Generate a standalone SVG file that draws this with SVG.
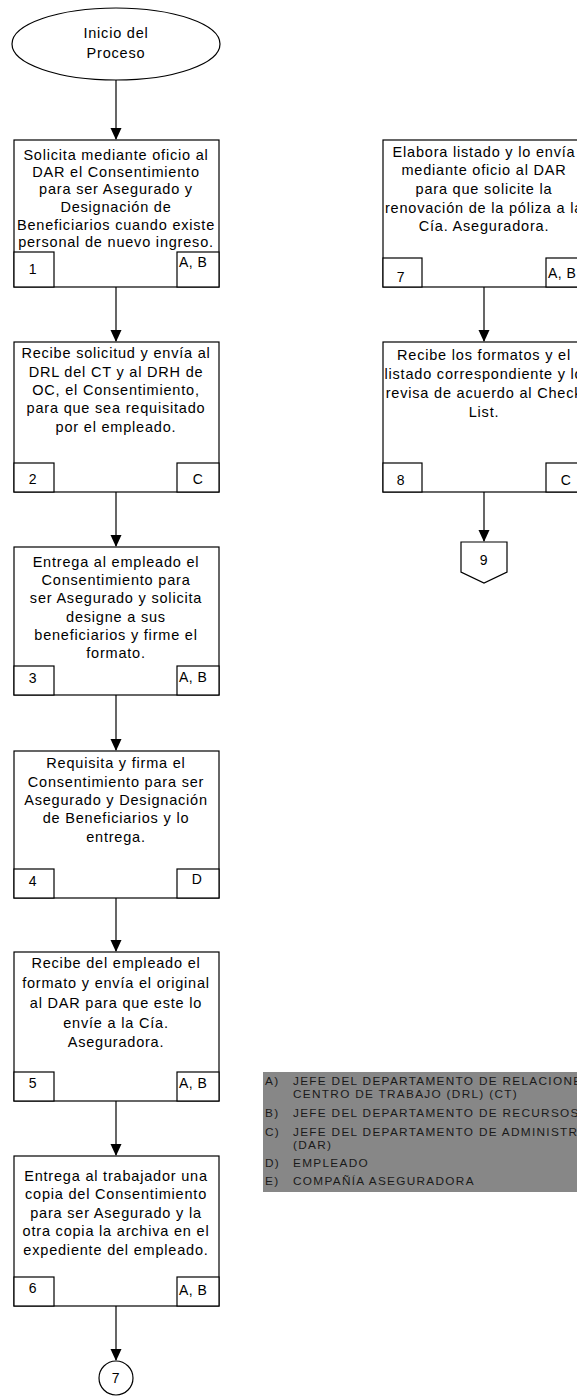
<svg xmlns="http://www.w3.org/2000/svg" width="577" height="1398" viewBox="0 0 577 1398">
<style>
.b{fill:#fff;stroke:#000;stroke-width:1.2}
.t{font-family:"Liberation Sans",Arial,sans-serif;font-size:14.5px;letter-spacing:0.8px;fill:#000;text-anchor:middle}
.s{font-family:"Liberation Sans",Arial,sans-serif;font-size:14px;letter-spacing:0.5px;fill:#000}
.c{text-anchor:middle}
.l{fill:none;stroke:#000;stroke-width:1.2}
.g{font-family:"Liberation Sans",Arial,sans-serif;font-size:11.8px;letter-spacing:1.3px;fill:#1a1a1a}
</style>
<defs>
<marker id="ah" markerWidth="12" markerHeight="12" refX="11" refY="6" orient="auto" markerUnits="userSpaceOnUse">
<path d="M0,0.5 L12,6 L0,11.5 Z" fill="#000"/>
</marker>
</defs>
<g id="connectors">
<line class="l" x1="116" y1="80" x2="116" y2="139" marker-end="url(#ah)"/>
<line class="l" x1="116" y1="287" x2="116" y2="341" marker-end="url(#ah)"/>
<line class="l" x1="116" y1="492" x2="116" y2="546" marker-end="url(#ah)"/>
<line class="l" x1="116" y1="695" x2="116" y2="750" marker-end="url(#ah)"/>
<line class="l" x1="116" y1="898" x2="116" y2="951" marker-end="url(#ah)"/>
<line class="l" x1="116" y1="1101" x2="116" y2="1155" marker-end="url(#ah)"/>
<line class="l" x1="116" y1="1306" x2="116" y2="1360" marker-end="url(#ah)"/>
<line class="l" x1="484" y1="287" x2="484" y2="341" marker-end="url(#ah)"/>
<line class="l" x1="484" y1="492" x2="484" y2="541" marker-end="url(#ah)"/>
</g>
<g id="start">
<ellipse class="b" cx="116" cy="44" rx="104" ry="36"/>
<text class="t" x="116" y="38">Inicio del</text>
<text class="t" x="116" y="58">Proceso</text>
</g>
<g id="n1">
<rect class="b" x="14" y="140" width="205" height="147"/>
<rect class="b" x="14" y="252" width="40" height="35"/>
<rect class="b" x="177" y="252" width="42" height="35"/>
<text class="t" x="116" y="160">Solicita mediante oficio al</text>
<text class="t" x="116" y="177">DAR el Consentimiento</text>
<text class="t" x="116" y="194">para ser Asegurado y</text>
<text class="t" x="116" y="212">Designación de</text>
<text class="t" x="116" y="230">Beneficiarios cuando existe</text>
<text class="t" x="116" y="247">personal de nuevo ingreso.</text>
<text class="s c" x="33" y="274">1</text>
<text class="s" x="179" y="267">A, B</text>
</g>
<g id="n2">
<rect class="b" x="14" y="342" width="205" height="150"/>
<rect class="b" x="14" y="463" width="40" height="29"/>
<rect class="b" x="177" y="463" width="42" height="29"/>
<text class="t" x="116" y="358">Recibe solicitud y envía al</text>
<text class="t" x="116" y="377">DRL del CT y al DRH de</text>
<text class="t" x="116" y="395">OC, el Consentimiento,</text>
<text class="t" x="116" y="413">para que sea requisitado</text>
<text class="t" x="116" y="432">por el empleado.</text>
<text class="s c" x="33" y="484">2</text>
<text class="s c" x="198" y="484">C</text>
</g>
<g id="n3">
<rect class="b" x="14" y="547" width="205" height="148"/>
<rect class="b" x="14" y="666" width="40" height="29"/>
<rect class="b" x="177" y="666" width="42" height="29"/>
<text class="t" x="116" y="567">Entrega al empleado el</text>
<text class="t" x="116" y="585">Consentimiento para</text>
<text class="t" x="116" y="603">ser Asegurado y solicita</text>
<text class="t" x="116" y="622">designe a sus</text>
<text class="t" x="116" y="640">beneficiarios y firme el</text>
<text class="t" x="116" y="658">formato.</text>
<text class="s c" x="33" y="683">3</text>
<text class="s" x="179" y="682">A, B</text>
</g>
<g id="n4">
<rect class="b" x="14" y="751" width="205" height="147"/>
<rect class="b" x="14" y="869" width="40" height="29"/>
<rect class="b" x="177" y="869" width="42" height="29"/>
<text class="t" x="116" y="768">Requisita y firma el</text>
<text class="t" x="116" y="787">Consentimiento para ser</text>
<text class="t" x="116" y="805">Asegurado y Designación</text>
<text class="t" x="116" y="823">de Beneficiarios y lo</text>
<text class="t" x="116" y="842">entrega.</text>
<text class="s c" x="33" y="886">4</text>
<text class="s c" x="197" y="884">D</text>
</g>
<g id="n5">
<rect class="b" x="14" y="952" width="205" height="149"/>
<rect class="b" x="14" y="1072" width="40" height="29"/>
<rect class="b" x="177" y="1072" width="42" height="29"/>
<text class="t" x="116" y="968">Recibe del empleado el</text>
<text class="t" x="116" y="988">formato y envía el original</text>
<text class="t" x="116" y="1008">al DAR para que este lo</text>
<text class="t" x="116" y="1028">envíe a la Cía.</text>
<text class="t" x="116" y="1047">Aseguradora.</text>
<text class="s c" x="33" y="1088">5</text>
<text class="s" x="179" y="1088">A, B</text>
</g>
<g id="n6">
<rect class="b" x="14" y="1156" width="205" height="150"/>
<rect class="b" x="14" y="1277" width="40" height="29"/>
<rect class="b" x="177" y="1277" width="42" height="29"/>
<text class="t" x="116" y="1181">Entrega al trabajador una</text>
<text class="t" x="116" y="1199">copia del Consentimiento</text>
<text class="t" x="116" y="1218">para ser Asegurado y la</text>
<text class="t" x="116" y="1236">otra copia la archiva en el</text>
<text class="t" x="116" y="1255">expediente del empleado.</text>
<text class="s c" x="33" y="1293">6</text>
<text class="s" x="179" y="1295">A, B</text>
</g>
<g id="end7">
<circle class="b" cx="116" cy="1378" r="17"/>
<text class="s c" x="116" y="1383">7</text>
</g>
<g id="n7">
<rect class="b" x="383" y="140" width="205" height="147"/>
<rect class="b" x="383" y="258" width="39" height="29"/>
<rect class="b" x="546" y="258" width="42" height="29"/>
<text class="t" x="484" y="157">Elabora listado y lo envía</text>
<text class="t" x="484" y="175">mediante oficio al DAR</text>
<text class="t" x="484" y="194">para que solicite la</text>
<text class="t" x="484" y="213">renovación de la póliza a la</text>
<text class="t" x="484" y="231">Cía. Aseguradora.</text>
<text class="s c" x="401" y="282">7</text>
<text class="s" x="548" y="278">A, B</text>
</g>
<g id="n8">
<rect class="b" x="383" y="342" width="205" height="150"/>
<rect class="b" x="383" y="463" width="39" height="29"/>
<rect class="b" x="546" y="463" width="42" height="29"/>
<text class="t" x="484" y="360">Recibe los formatos y el</text>
<text class="t" x="484" y="379">listado correspondiente y lo</text>
<text class="t" x="484" y="398">revisa de acuerdo al Check</text>
<text class="t" x="484" y="417">List.</text>
<text class="s c" x="401" y="485">8</text>
<text class="s c" x="566" y="485">C</text>
</g>
<g id="off9">
<path class="b" d="M461,542 L507,542 L507,572 L484,583 L461,572 Z"/>
<text class="s c" x="484" y="565">9</text>
</g>
<g id="legend">
<rect x="263" y="1072" width="320" height="120" fill="#878787"/>
<text class="g" x="265" y="1085">A)</text>
<text class="g" x="293" y="1085">JEFE DEL DEPARTAMENTO DE RELACIONES</text>
<text class="g" x="293" y="1098">CENTRO DE TRABAJO (DRL) (CT)</text>
<text class="g" x="265" y="1117">B)</text>
<text class="g" x="293" y="1117">JEFE DEL DEPARTAMENTO DE RECURSOS</text>
<text class="g" x="265" y="1136">C)</text>
<text class="g" x="293" y="1136">JEFE DEL DEPARTAMENTO DE ADMINISTRACIÓN</text>
<text class="g" x="293" y="1149">(DAR)</text>
<text class="g" x="265" y="1167">D)</text>
<text class="g" x="293" y="1167">EMPLEADO</text>
<text class="g" x="265" y="1185">E)</text>
<text class="g" x="293" y="1185">COMPAÑÍA ASEGURADORA</text>
</g>
</svg>
